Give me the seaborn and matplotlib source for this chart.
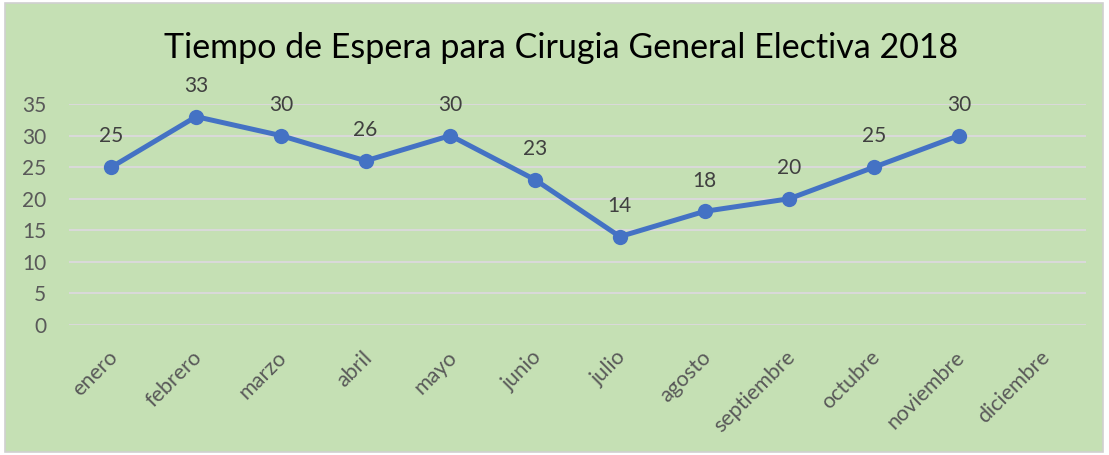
import matplotlib
matplotlib.use("Agg")
import matplotlib.pyplot as plt
import matplotlib.transforms as mtransforms
import seaborn as sns
import pandas as pd
from matplotlib.patches import Rectangle

# data
meses = ["enero", "febrero", "marzo", "abril", "mayo", "junio", "julio",
         "agosto", "septiembre", "octubre", "noviembre", "diciembre"]
dias = [25, 33, 30, 26, 30, 23, 14, 18, 20, 25, 30, None]
y_ticks = [0, 5, 10, 15, 20, 25, 30, 35]

sns.set_style("white")
plt.rcParams['font.family'] = ['Lato', 'DejaVu Sans']

df = pd.DataFrame({"mes": meses, "dias": dias})
df["pos"] = range(len(meses))

fig = plt.figure(figsize=(11.09, 4.55), dpi=100)
fig.patch.set_facecolor("white")
# chart area with thin grey border, kept behind the axes
fig.patches.append(Rectangle((5 / 1109, 3 / 455), 1098 / 1109, 449 / 455,
                             transform=fig.transFigure, facecolor="#C5E0B4",
                             edgecolor="#D0D0D0", linewidth=1.2, zorder=-10))

ax = fig.add_axes([69 / 1109, 1 - 325 / 455, (1086 - 69) / 1109, (325 - 104) / 455])
ax.set_facecolor("none")

sns.lineplot(data=df.dropna(), x="pos", y="dias", ax=ax, color="#4472C4",
             linewidth=3.6, marker="o", markersize=11, markeredgewidth=0, zorder=3)

for p, v in zip(df["pos"], df["dias"]):
    if pd.notna(v):
        ax.annotate(f"{v:.0f}", (p, v), xytext=(0, 15), textcoords="offset points",
                    ha="center", va="bottom", fontsize=15, color="#404040",
                    annotation_clip=False)

ax.set_xlim(-0.5, len(meses) - 0.5)
ax.set_ylim(0, 35)
ax.set_yticks(y_ticks)
ax.set_xticks(range(len(meses)))
ax.set_xticklabels(meses, rotation=45, ha="right", rotation_mode="anchor")
ax.tick_params(axis="x", length=0, pad=16, labelsize=15.5, colors="#595959")
ax.tick_params(axis="y", length=0, pad=16.5, labelsize=15, colors="#595959")
# nudge the rotated month labels a little to the left
shift = mtransforms.ScaledTranslation(-4 / 100, 0, fig.dpi_scale_trans)
for lab in ax.get_xticklabels():
    lab.set_transform(lab.get_transform() + shift)
ax.grid(axis="y", color="#D9D9D9", linewidth=1.5)
ax.set_axisbelow(True)
for s in ax.spines.values():
    s.set_visible(False)
ax.set_xlabel("")
ax.set_ylabel("")

fig.text(0.506, 1 - 48 / 455, "Tiempo de Espera para Cirugia General Electiva 2018",
         ha="center", va="center", fontsize=24.5, color="black")

fig.savefig("out.png", dpi=100)
